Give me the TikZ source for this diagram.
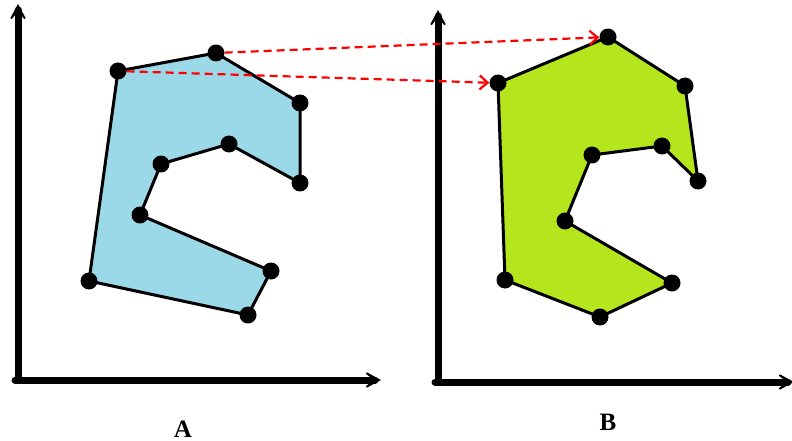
\documentclass[tikz,border=0pt]{standalone}
\usepackage{fontspec}
\setmainfont{Liberation Serif}
\usetikzlibrary{arrows.meta,backgrounds}
\definecolor{polyblue}{RGB}{155,216,232}
\definecolor{polygreen}{RGB}{181,230,29}
\begin{document}
\begin{tikzpicture}[x=1pt,y=-1pt,
  dot/.style={circle,fill=black,inner sep=0pt,minimum size=17pt},
  axis/.style={line width=7pt,line cap=round,-{Stealth[length=24pt,width=26pt,inset=17pt]}},
  outline/.style={draw=black,line width=3pt,line join=round},
  mapline/.style={red,line width=2.2pt,dash pattern=on 8pt off 5pt,-{Straight Barb[length=8pt,width=14pt,line width=2.2pt]}},
  lbl/.style={font=\fontsize{25}{30}\selectfont\bfseries,inner sep=0pt}]
\useasboundingbox (0,0) rectangle (792,441);
% axes
\coordinate (oa) at (18,380);
\coordinate (ya) at (18,4);
\coordinate (xa) at (381,380);
\coordinate (ob) at (438,382);
\coordinate (yb) at (438,10);
\coordinate (xb) at (794,382);
\draw[axis] ([yshift=3pt]oa) -- (ya);
\draw[axis] ([xshift=-3pt]oa) -- (xa);
\draw[axis] ([yshift=3pt]ob) -- (yb);
\draw[axis] ([xshift=-3pt]ob) -- (xb);
% polygon A vertices
\node[dot] (a1) at (118,71) {};
\node[dot] (a2) at (216,53) {};
\node[dot] (a3) at (300,103) {};
\node[dot] (a4) at (300,183) {};
\node[dot] (a5) at (229,144) {};
\node[dot] (a6) at (161,164) {};
\node[dot] (a7) at (140,215) {};
\node[dot] (a8) at (271,271) {};
\node[dot] (a9) at (248,315) {};
\node[dot] (a10) at (89,281) {};
% polygon B vertices
\node[dot] (b1) at (498,83) {};
\node[dot] (b2) at (608,37) {};
\node[dot] (b3) at (685,86) {};
\node[dot] (b4) at (698,181) {};
\node[dot] (b5) at (662,146) {};
\node[dot] (b6) at (592,155) {};
\node[dot] (b7) at (565,221) {};
\node[dot] (b8) at (672,283) {};
\node[dot] (b9) at (600,317) {};
\node[dot] (b10) at (505,280) {};
\begin{scope}[on background layer]
\path[outline,fill=polyblue] (a1.center) -- (a2.center) -- (a3.center) -- (a4.center) -- (a5.center) -- (a6.center) -- (a7.center) -- (a8.center) -- (a9.center) -- (a10.center) -- cycle;
\path[outline,fill=polygreen] (b1.center) -- (b2.center) -- (b3.center) -- (b4.center) -- (b5.center) -- (b6.center) -- (b7.center) -- (b8.center) -- (b9.center) -- (b10.center) -- cycle;
\end{scope}
\draw[mapline] (a2) -- (b2);
\draw[mapline] (a1) -- (b1);
\node[lbl,anchor=base] (la) at (183,437) {A};
\node[lbl,anchor=base] (lb) at (608,430) {B};
\end{tikzpicture}
\end{document}
